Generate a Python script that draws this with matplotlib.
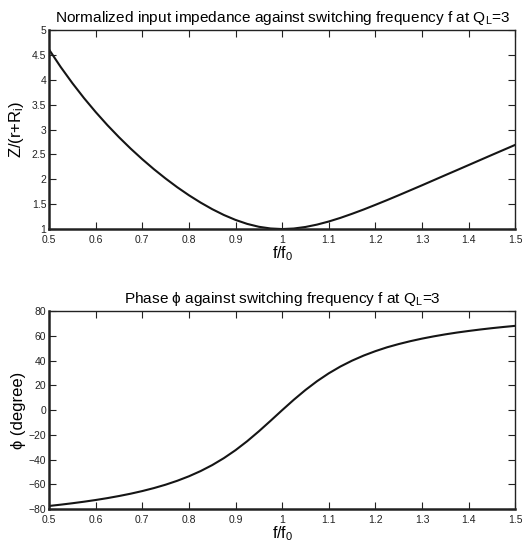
import matplotlib
matplotlib.use("Agg")
import matplotlib.pyplot as plt

plt.rcParams["font.family"] = ["Liberation Sans", "DejaVu Sans"]
plt.rcParams["mathtext.fontset"] = "custom"
plt.rcParams["mathtext.rm"] = "Liberation Sans"
plt.rcParams["mathtext.it"] = "Liberation Sans"

# ---------------------------------------------------------------------------
# Data read off the picture (f/f0 sampled every 0.025)
# ---------------------------------------------------------------------------
freq = [0.500, 0.525, 0.550, 0.575, 0.600, 0.625, 0.650, 0.675, 0.700, 0.725,
        0.750, 0.775, 0.800, 0.825, 0.850, 0.875, 0.900, 0.925, 0.950, 0.975,
        1.000, 1.025, 1.050, 1.075, 1.100, 1.125, 1.150, 1.175, 1.200, 1.225,
        1.250, 1.275, 1.300, 1.325, 1.350, 1.375, 1.400, 1.425, 1.450, 1.475,
        1.500]

impedance = [4.610, 4.258, 3.934, 3.633, 3.353, 3.091, 2.847, 2.618, 2.404, 2.203,
             2.016, 1.841, 1.680, 1.533, 1.400, 1.283, 1.184, 1.104, 1.046, 1.012,
             1.000, 1.011, 1.042, 1.090, 1.152, 1.225, 1.307, 1.394, 1.487, 1.582,
             1.680, 1.780, 1.880, 1.982, 2.084, 2.185, 2.287, 2.389, 2.491, 2.592,
             2.693]

phase = [-77.47, -76.42, -75.27, -74.02, -72.65, -71.13, -69.43, -67.55, -65.41, -63.00,
         -60.26, -57.10, -53.47, -49.27, -44.41, -38.78, -32.35, -25.09, -17.11, -8.64,
         0.00, 8.43, 16.32, 23.48, 29.80, 35.31, 40.07, 44.19, 47.73, 50.85,
         53.47, 55.81, 57.87, 59.69, 61.32, 62.78, 64.06, 65.25, 66.33, 67.30,
         68.20]

x_ticks = [0.5, 0.6, 0.7, 0.8, 0.9, 1.0, 1.1, 1.2, 1.3, 1.4, 1.5]
x_tick_labels = ["0.5", "0.6", "0.7", "0.8", "0.9", "1", "1.1", "1.2", "1.3", "1.4", "1.5"]
z_ticks = [1, 1.5, 2, 2.5, 3, 3.5, 4, 4.5, 5]
z_tick_labels = ["1", "1.5", "2", "2.5", "3", "3.5", "4", "4.5", "5"]
phase_ticks = [-80, -60, -40, -20, 0, 20, 40, 60, 80]


def style_axes(ax):
    """Matlab-like boxed axes with inward ticks on all sides."""
    ax.tick_params(direction="in", top=True, right=True, length=5, width=0.8,
                   labelsize=7.5, pad=2, colors="#222222")
    ax.tick_params(axis="x", pad=4)
    for side in ("left", "bottom"):
        ax.spines[side].set_linewidth(1.8)
    for side in ("top", "right"):
        ax.spines[side].set_linewidth(1.0)
    for sp in ax.spines.values():
        sp.set_color("#222222")


fig = plt.figure(figsize=(5.22, 5.48), dpi=100)

# ---------------------------------------------------------------------------
# Top: normalized impedance
# ---------------------------------------------------------------------------
ax1 = fig.add_axes([0.094, 0.582, 0.893, 0.363])
ax1.plot(freq, impedance, color="#151515", linewidth=1.5)
ax1.set_xlim(0.5, 1.5)
ax1.set_ylim(1, 5)
ax1.set_xticks(x_ticks)
ax1.set_xticklabels(x_tick_labels)
ax1.set_yticks(z_ticks)
ax1.set_yticklabels(z_tick_labels)
ax1.set_xlabel(r"f/f$_\mathrm{0}$", fontsize=11.5, labelpad=0)
ax1.set_ylabel(r"Z/(r+R$_\mathrm{i}$)", fontsize=12, labelpad=4)
ax1.set_title(r"Normalized input impedance against switching frequency f at Q$_\mathrm{L}$=3",
              fontsize=11.1, pad=6)
style_axes(ax1)

# ---------------------------------------------------------------------------
# Bottom: phase
# ---------------------------------------------------------------------------
ax2 = fig.add_axes([0.094, 0.071, 0.893, 0.361])
ax2.plot(freq, phase, color="#151515", linewidth=1.5)
ax2.set_xlim(0.5, 1.5)
ax2.set_ylim(-80, 80)
ax2.set_xticks(x_ticks)
ax2.set_xticklabels(x_tick_labels)
ax2.set_yticks(phase_ticks)
ax2.set_xlabel(r"f/f$_\mathrm{0}$", fontsize=11.5, labelpad=0)
ax2.set_ylabel("\u03d5 (degree)", fontsize=12, labelpad=2)
ax2.set_title("Phase \u03d5 against switching frequency f at Q$_\\mathrm{L}$=3",
              fontsize=11.1, pad=6)
style_axes(ax2)

fig.savefig("out.png", dpi=100)
